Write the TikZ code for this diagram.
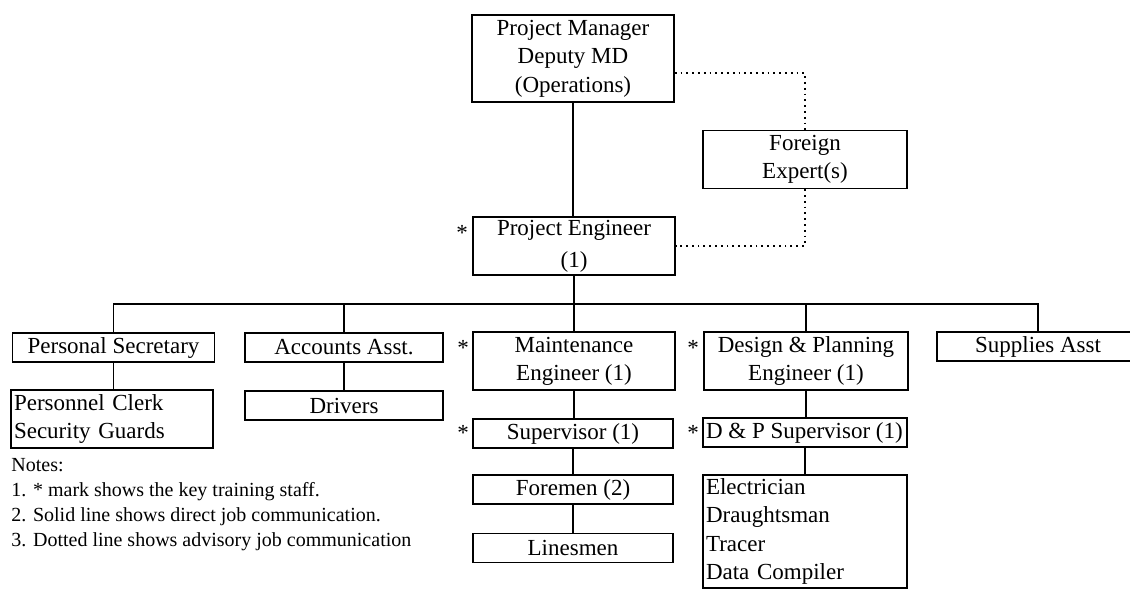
\documentclass[tikz,border=0pt]{standalone}
\usepackage{fontspec}
\setmainfont{Liberation Serif}

\tikzset{
  post/.style={draw, line width=0.75pt, inner sep=1.5pt, minimum width=101pt,
    minimum height=14.5pt, align=center, font=\fontsize{11.5}{14}\selectfont},
  twoline/.style={post, minimum height=29pt},
  listbox/.style={post, align=left, text width=98pt},
  keymark/.style={font=\fontsize{11.5}{14}\selectfont, inner sep=0pt, anchor=base},
  direct/.style={line width=0.8pt},
  advisory/.style={line width=0.9pt, dotted},
  notes/.style={font=\fontsize{10}{12.5}\selectfont, align=left, inner sep=0pt,
    anchor=north west}
}

\begin{document}
\begin{tikzpicture}[x=0.5pt, y=-0.5pt]

    \useasboundingbox (0,0) rectangle (1130,590);

    % Top of the chart
    \node[post, minimum height=43.5pt, font=\fontsize{11.5}{14.2}\selectfont] (pm) at (573,58.5) {Project Manager\\Deputy MD\\(Operations)};
    \node[twoline, minimum width=102pt] (fe) at (805,159.5) {Foreign\\Expert(s)};
    \node[twoline, font=\fontsize{11.5}{16}\selectfont] (pe) at (574,246) {Project Engineer\\(1)};

    % Second row
    \node[post] (ps) at (113.5,347.5) {Personal Secretary};
    \node[post, minimum width=99pt] (aa) at (344,347.5) {Accounts Asst.};
    \node[twoline] (me) at (574,361) {Maintenance\\Engineer (1)};
    \node[twoline, minimum width=102pt] (dpe) at (806,361) {Design \& Planning\\Engineer (1)};
    \node[post] (sa) at (1038,346.5) {Supplies Asst};

    % Lower rows
    \node[listbox, minimum height=29pt] (pcs) at (112,419) {Personnel Clerk\\Security Guards};
    \node[post, minimum width=99pt] (dr) at (344,405.5) {Drivers};
    \node[post, minimum width=100pt] (sup) at (573,433.5) {Supervisor (1)};
    \node[post, minimum width=100pt] (fm) at (573,489.5) {Foremen (2)};
    \node[post, minimum width=100pt] (ln) at (573,548) {Linesmen};
    \node[post, minimum width=102pt] (dps) at (805,432.5) {\makebox[99pt][l]{D \& P Supervisor (1)}};
    \node[listbox, minimum width=102pt, text width=99pt, minimum height=56.5pt,
    font=\fontsize{11.5}{14.2}\selectfont] (crew) at (805,531.5) {Electrician\\Draughtsman\\Tracer\\Data Compiler};

    % Key training staff marks
    \node[keymark] (pe-key) at (462,240) {*};
    \node[keymark] (me-key) at (463,355) {*};
    \node[keymark] (dpe-key) at (693,355) {*};
    \node[keymark] (sup-key) at (463,440) {*};
    \node[keymark] (dps-key) at (693,440) {*};

    % Notes
    \node[notes] (notes) at (11,458) {Notes:\\1. * mark shows the key training staff.\\2. Solid line shows direct job communication.\\3. Dotted line shows advisory job communication};

    % Direct lines
    \coordinate (bus) at (574,304);
    \draw[direct] (pm.south) -- (pm.south |- pe.north);
    \draw[direct] (pe.south) -- (pe.south |- bus);
    \draw[direct] (ps.north) |- (sa.north |- bus) -- (sa.north);
    \foreach \n in {aa, me, dpe}
        \draw[direct] (\n.north) -- (\n.north |- bus);
    \foreach \a/\b in {ps/pcs, aa/dr, me/sup, sup/fm, fm/ln, dpe/dps, dps/crew}
        \draw[direct] (\a.south) -- (\a.south |- \b.north);

    % Advisory lines
    \draw[advisory] ([yshift=-7.25pt]pm.east) -| (fe.north);
    \draw[advisory] (fe.south) |- (pe.east);

\end{tikzpicture}
\end{document}
